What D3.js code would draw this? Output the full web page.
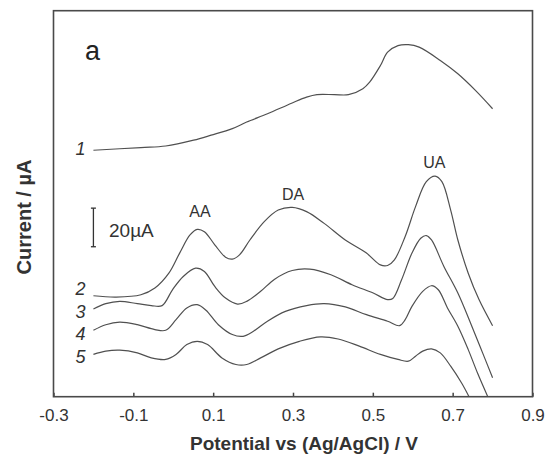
<!DOCTYPE html>
<html>
<head>
<meta charset="utf-8">
<script src="https://cdn.jsdelivr.net/npm/d3@7"></script>
<style>
  html, body { margin: 0; padding: 0; background: #fff; }
  svg { display: block; font-family: "Liberation Sans", Arial, sans-serif; }
</style>
</head>
<body>
<svg id="chart" width="551" height="454"></svg>
<script>
// ---- data: potential (V) vs current (µA) ----
const curve1 = [[-0.2,127.7],[-0.081,129.1],[-0.019,129.9],[0.051,132.9],[0.095,135.5],[0.148,138.9],[0.184,142.3],[0.236,146.6],[0.298,152.2],[0.334,155.2],[0.360,156.5],[0.404,156.5],[0.439,156.5],[0.475,159.6],[0.492,163.0],[0.519,171.6],[0.537,178.5],[0.563,181.9],[0.589,182.4],[0.616,181.1],[0.669,174.2],[0.713,167.3],[0.757,158.7],[0.8,149.2]];
const curve2 = [[-0.2,52.3],[-0.143,51.6],[-0.081,52.8],[-0.046,56.3],[-0.011,64.0],[0.016,74.4],[0.042,83.8],[0.060,86.7],[0.078,85.5],[0.104,78.7],[0.131,72.3],[0.148,71.3],[0.166,73.5],[0.192,81.2],[0.228,90.7],[0.263,96.7],[0.298,98.1],[0.334,95.9],[0.378,89.8],[0.431,81.2],[0.484,74.4],[0.519,68.3],[0.537,68.0],[0.554,70.9],[0.581,83.0],[0.607,98.5],[0.634,111.4],[0.656,114.3],[0.673,111.4],[0.695,96.7],[0.713,81.2],[0.739,64.0],[0.766,50.3],[0.8,36.8]];
const curve3 = [[-0.2,45.4],[-0.169,48.2],[-0.134,49.4],[-0.090,48.2],[-0.055,47.2],[-0.028,47.2],[-0.002,55.4],[0.025,62.3],[0.056,66.6],[0.078,64.9],[0.104,57.1],[0.131,51.1],[0.161,48.0],[0.184,49.4],[0.219,54.6],[0.254,60.9],[0.298,65.4],[0.342,66.1],[0.395,63.2],[0.448,58.0],[0.501,53.7],[0.537,50.3],[0.550,50.9],[0.572,60.6],[0.598,74.4],[0.620,82.1],[0.634,83.5],[0.647,81.2],[0.678,67.5],[0.713,53.7],[0.748,36.5],[0.775,22.7],[0.8,9.8]];
const curve4 = [[-0.2,34.4],[-0.169,37.3],[-0.134,38.6],[-0.090,37.3],[-0.046,34.8],[-0.019,34.4],[0.007,39.9],[0.034,46.0],[0.060,47.7],[0.082,44.8],[0.113,37.3],[0.148,32.2],[0.175,31.3],[0.201,33.9],[0.236,39.1],[0.281,44.2],[0.334,47.2],[0.378,48.2],[0.431,46.5],[0.484,42.5],[0.537,39.1],[0.567,36.8],[0.581,39.9],[0.598,46.8],[0.625,54.6],[0.647,57.5],[0.664,55.4],[0.687,46.0],[0.713,36.5],[0.739,24.4],[0.762,12.4],[0.788,0.0]];
const curve5 = [[-0.2,21.9],[-0.169,23.6],[-0.134,24.1],[-0.090,22.7],[-0.055,20.1],[-0.019,19.3],[0.007,21.9],[0.034,27.0],[0.060,28.7],[0.086,27.0],[0.122,20.1],[0.157,16.7],[0.184,16.7],[0.219,20.1],[0.263,24.8],[0.316,28.7],[0.369,31.0],[0.413,29.9],[0.466,26.2],[0.519,21.9],[0.563,19.3],[0.589,18.4],[0.607,21.0],[0.625,23.6],[0.647,24.8],[0.669,22.7],[0.695,15.8],[0.722,7.2],[0.741,0.0]];
const curves = [curve1, curve2, curve3, curve4, curve5];
const curveNames = ["1", "2", "3", "4", "5"];
const curveLabelCurrent = [125.2, 52.7, 40.8, 29.4, 17.5];
const xTickValues = [-0.3, -0.1, 0.1, 0.3, 0.5, 0.7, 0.9];
const xTickLabels = ["-0.3", "-0.1", "0.1", "0.3", "0.5", "0.7", "0.9"];
const peakNames = ["AA", "DA", "UA"];
const peakPos = [[0.067, 93.3], [0.300, 101.9], [0.654, 118.5]];
const scaleBarValue = 20;

// ---- layout ----
const L = 53.5, R = 532.5, T = 10.7, B = 396.7;
const svg = d3.select("#chart");
const x = d3.scaleLinear().domain([-0.3, 0.9]).range([L, R]);
const y = d3.scaleLinear().domain([0, 200]).range([B, T]);

svg.append("defs").append("clipPath").attr("id", "clip")
  .append("rect").attr("x", L).attr("y", T).attr("width", R - L).attr("height", B - T);

const line = d3.line().x(d => x(d[0])).y(d => y(d[1])).curve(d3.curveCatmullRom.alpha(0.5));

svg.append("g").attr("clip-path", "url(#clip)")
  .selectAll("path").data(curves).join("path")
  .attr("d", line)
  .attr("fill", "none")
  .attr("stroke", "#505050")
  .attr("stroke-width", 1.2)
  .attr("stroke-linejoin", "round");

// x axis with inward ticks
const xAxis = d3.axisBottom(x).tickValues(xTickValues)
  .tickFormat((d, i) => xTickLabels[i]).tickSizeInner(-4).tickSizeOuter(0).tickPadding(12);
const gx = svg.append("g").attr("transform", `translate(0,${B})`).call(xAxis);
gx.select(".domain").remove();
gx.selectAll(".tick line").attr("stroke", "#444").attr("stroke-width", 1.5);
gx.selectAll(".tick text").attr("fill", "#333").attr("font-size", 17)
  .attr("font-family", "'Liberation Sans', Arial, sans-serif");

// frame
svg.append("rect").attr("x", L).attr("y", T).attr("width", R - L).attr("height", B - T)
  .attr("fill", "none").attr("stroke", "#4a4a4a").attr("stroke-width", 1.6);

// axis titles
svg.append("text").attr("x", 304).attr("y", 450).attr("text-anchor", "middle")
  .attr("font-size", 19).attr("font-weight", "bold").attr("fill", "#333")
  .text("Potential vs (Ag/AgCl) / V");
svg.append("text").attr("transform", `translate(31,${217}) rotate(-90)`).attr("text-anchor", "middle")
  .attr("font-size", 20).attr("font-weight", "bold").attr("fill", "#333")
  .text("Current / µA");

// panel letter
svg.append("text").attr("x", 85).attr("y", 60).attr("font-size", 27).attr("fill", "#222").text("a");

// curve labels
svg.selectAll("text.cl").data(curveNames).join("text").attr("class", "cl")
  .attr("x", x(-0.2) - 8).attr("y", (d, i) => y(curveLabelCurrent[i]))
  .attr("text-anchor", "end").attr("font-size", 18).attr("font-style", "italic").attr("fill", "#333")
  .text(d => d);

// peak labels
svg.selectAll("text.pk").data(peakNames).join("text").attr("class", "pk")
  .attr("x", (d, i) => x(peakPos[i][0])).attr("y", (d, i) => y(peakPos[i][1]))
  .attr("text-anchor", "middle").attr("font-size", 16).attr("fill", "#333")
  .text(d => d);

// scale bar
const sbX = x(-0.2), sbY0 = y(77.7), sbY1 = y(77.7 + scaleBarValue);
const sb = svg.append("g").attr("stroke", "#333").attr("stroke-width", 1.3);
sb.append("line").attr("x1", sbX).attr("x2", sbX).attr("y1", sbY0).attr("y2", sbY1);
sb.append("line").attr("x1", sbX - 2.5).attr("x2", sbX + 2.5).attr("y1", sbY0).attr("y2", sbY0);
sb.append("line").attr("x1", sbX - 2.5).attr("x2", sbX + 2.5).attr("y1", sbY1).attr("y2", sbY1);
svg.append("text").attr("x", 109).attr("y", 237).attr("font-size", 19).attr("fill", "#333")
  .text(scaleBarValue + "µA");
</script>
</body>
</html>
